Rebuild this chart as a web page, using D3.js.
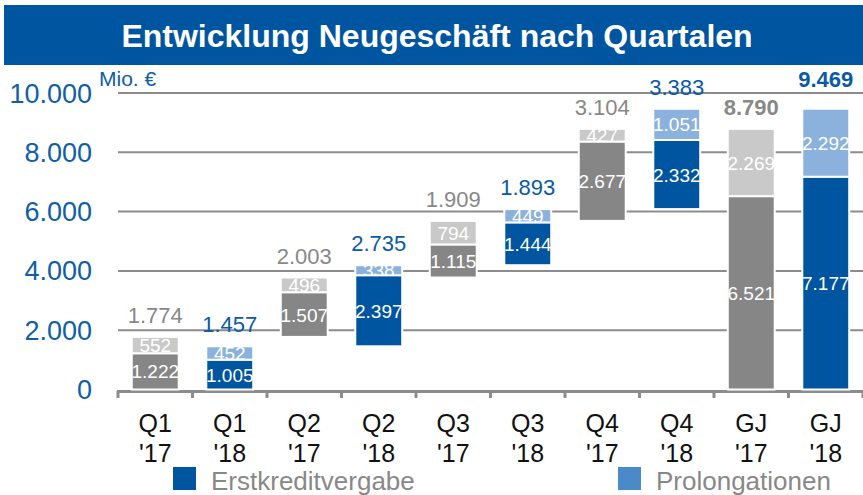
<!DOCTYPE html>
<html>
<head>
<meta charset="utf-8">
<script src="https://cdn.jsdelivr.net/npm/d3@7"></script>
<style>
  body { margin: 0; background: #fff; }
  svg { display: block; font-family: "Liberation Sans", Arial, sans-serif; }
</style>
</head>
<body>
<div id="chart"></div>
<script>
// data
var categories = ["Q1 '17", "Q1 '18", "Q2 '17", "Q2 '18", "Q3 '17", "Q3 '18", "Q4 '17", "Q4 '18", "GJ '17", "GJ '18"];
var years = ["17", "18", "17", "18", "17", "18", "17", "18", "17", "18"];
var isYearTotal = [false, false, false, false, false, false, false, false, true, true];
var erstkredit = [1222, 1005, 1507, 2397, 1115, 1444, 2677, 2332, 6521, 7177];
var prolongation = [552, 452, 496, 338, 794, 449, 427, 1051, 2269, 2292];
var totals = [1774, 1457, 2003, 2735, 1909, 1893, 3104, 3383, 8790, 9469];
var yTicks = [0, 2000, 4000, 6000, 8000, 10000];
var legendLabels = ["Erstkreditvergabe", "Prolongationen"];

const width = 863, height = 495;
var de = d3.formatLocale({decimal: ",", thousands: ".", grouping: [3], currency: ["", " €"]});
var fmt = de.format(",");

var colors = {
    "17": {dark: "#868686", light: "#c9c9c9", text: "#888888"},
    "18": {dark: "#0055a0", light: "#8ab2dc", text: "#0a5aa5"}
};

// waterfall: each quarter starts where the previous quarter of the same year ended
var running = {};
var rows = categories.map(function(c, i){
    var y = years[i];
    if(running[y] === undefined) running[y] = 0;
    var base = isYearTotal[i] ? 0 : running[y];
    if(!isYearTotal[i]) running[y] += totals[i];
    return {cat: c, year: y, base: base, erst: erstkredit[i], prol: prolongation[i], total: totals[i], bold: isYearTotal[i]};
});

var svg = d3.select('#chart')
    .append('svg')
    .attr('width', width)
    .attr('height', height);

// title band
svg.append('rect')
    .attr('x', 4).attr('y', 5)
    .attr('width', width - 4).attr('height', 60)
    .attr('fill', '#0055a0');
svg.append('text')
    .attr('x', 437).attr('y', 47)
    .attr('text-anchor', 'middle')
    .attr('fill', '#fff')
    .attr('font-weight', 'bold')
    .attr('font-size', 32)
    .text('Entwicklung Neugeschäft nach Quartalen');

var x = d3.scaleBand()
    .domain(categories)
    .range([118, 863])
    .paddingInner(0.37)
    .paddingOuter(0.185);
var y = d3.scaleLinear()
    .domain([0, 10000])
    .range([389.5, 93]);

// gridlines + y labels
svg.append('g').selectAll('line')
    .data(yTicks.filter(function(d){ return d > 0; }))
    .enter().append('line')
    .attr('x1', 118).attr('x2', 863)
    .attr('y1', function(d){ return y(d); })
    .attr('y2', function(d){ return y(d); })
    .attr('stroke', '#8c8c8c')
    .attr('stroke-width', 2);

svg.append('g').selectAll('text')
    .data(yTicks)
    .enter().append('text')
    .attr('x', 92)
    .attr('y', function(d){ return y(d) + 9.5; })
    .attr('text-anchor', 'end')
    .attr('fill', '#0f5ea8')
    .attr('font-size', 27)
    .text(function(d){ return fmt(d); });

svg.append('text')
    .attr('x', 99).attr('y', 86)
    .attr('fill', '#0f5ea8')
    .attr('font-size', 21)
    .text('Mio. €');

// axis line with ticks between categories
var axis = svg.append('g');
axis.append('line')
    .attr('x1', 117).attr('x2', 863)
    .attr('y1', 391.5).attr('y2', 391.5)
    .attr('stroke', '#8c8c8c').attr('stroke-width', 3);
var step = x.step();
axis.selectAll('line.tk')
    .data(d3.range(categories.length + 1))
    .enter().append('line')
    .attr('class', 'tk')
    .attr('x1', function(i){ return 118 + i * step; })
    .attr('x2', function(i){ return 118 + i * step; })
    .attr('y1', 391).attr('y2', 398)
    .attr('stroke', '#8c8c8c').attr('stroke-width', 3);

// bars: two segments each
var segs = [];
rows.forEach(function(r, i){
    segs.push({i: i, cat: r.cat, y0: r.base, y1: r.base + r.erst, v: r.erst, fill: colors[r.year].dark});
    segs.push({i: i, cat: r.cat, y0: r.base + r.erst, y1: r.base + r.erst + r.prol, v: r.prol, fill: colors[r.year].light});
});

var defs = svg.append('defs');
defs.selectAll('clipPath')
    .data(segs)
    .enter().append('clipPath')
    .attr('id', function(d, k){ return 'clip' + k; })
    .append('rect')
    .attr('x', function(d){ return x(d.cat); })
    .attr('y', function(d){ return y(d.y1); })
    .attr('width', x.bandwidth())
    .attr('height', function(d){ return y(d.y0) - y(d.y1); });

var bars = svg.append('g');
bars.selectAll('rect')
    .data(segs)
    .enter().append('rect')
    .attr('x', function(d){ return x(d.cat); })
    .attr('y', function(d){ return y(d.y1); })
    .attr('width', x.bandwidth())
    .attr('height', function(d){ return y(d.y0) - y(d.y1); })
    .attr('fill', function(d){ return d.fill; })
    .attr('stroke', '#fff')
    .attr('stroke-width', 2);

bars.selectAll('text')
    .data(segs)
    .enter().append('text')
    .attr('clip-path', function(d, k){ return 'url(#clip' + k + ')'; })
    .attr('x', function(d){ return x(d.cat) + x.bandwidth() / 2; })
    .attr('y', function(d){ return (y(d.y0) + y(d.y1)) / 2 + 7; })
    .attr('text-anchor', 'middle')
    .attr('fill', '#fff')
    .attr('font-size', 19)
    .text(function(d){ return fmt(d.v); });

// totals above
svg.append('g').selectAll('text')
    .data(rows)
    .enter().append('text')
    .attr('x', function(d){ return x(d.cat) + x.bandwidth() / 2; })
    .attr('y', function(d){ return y(d.base + d.total) - (d.bold && d.year === "18" ? 22 : 14); })
    .attr('text-anchor', 'middle')
    .attr('fill', function(d){ return colors[d.year].text; })
    .attr('font-size', 22)
    .attr('font-weight', function(d){ return d.bold ? 'bold' : 'normal'; })
    .text(function(d){ return fmt(d.total); });

// category labels (two lines)
var cl = svg.append('g').selectAll('text')
    .data(categories)
    .enter().append('text')
    .attr('x', function(d){ return x(d) + x.bandwidth() / 2; })
    .attr('y', 432)
    .attr('text-anchor', 'middle')
    .attr('fill', '#111')
    .attr('font-size', 25);
cl.append('tspan').text(function(d){ return d.split(' ')[0]; });
cl.append('tspan')
    .attr('x', function(d){ return x(d) + x.bandwidth() / 2; })
    .attr('dy', 30)
    .text(function(d){ return d.split(' ')[1]; });

// legend
var legendX = [173, 618];
var legendFill = ["#0055a0", "#4a8ac8"];
var lg = svg.append('g').selectAll('g')
    .data(legendLabels)
    .enter().append('g')
    .attr('transform', function(d, i){ return 'translate(' + legendX[i] + ',467)'; });
lg.append('rect')
    .attr('width', 23).attr('height', 23)
    .attr('fill', function(d, i){ return legendFill[i]; });
lg.append('text')
    .attr('x', 38).attr('y', 23)
    .attr('fill', '#888')
    .attr('font-size', 26)
    .text(function(d){ return d; });
</script>
</body>
</html>
